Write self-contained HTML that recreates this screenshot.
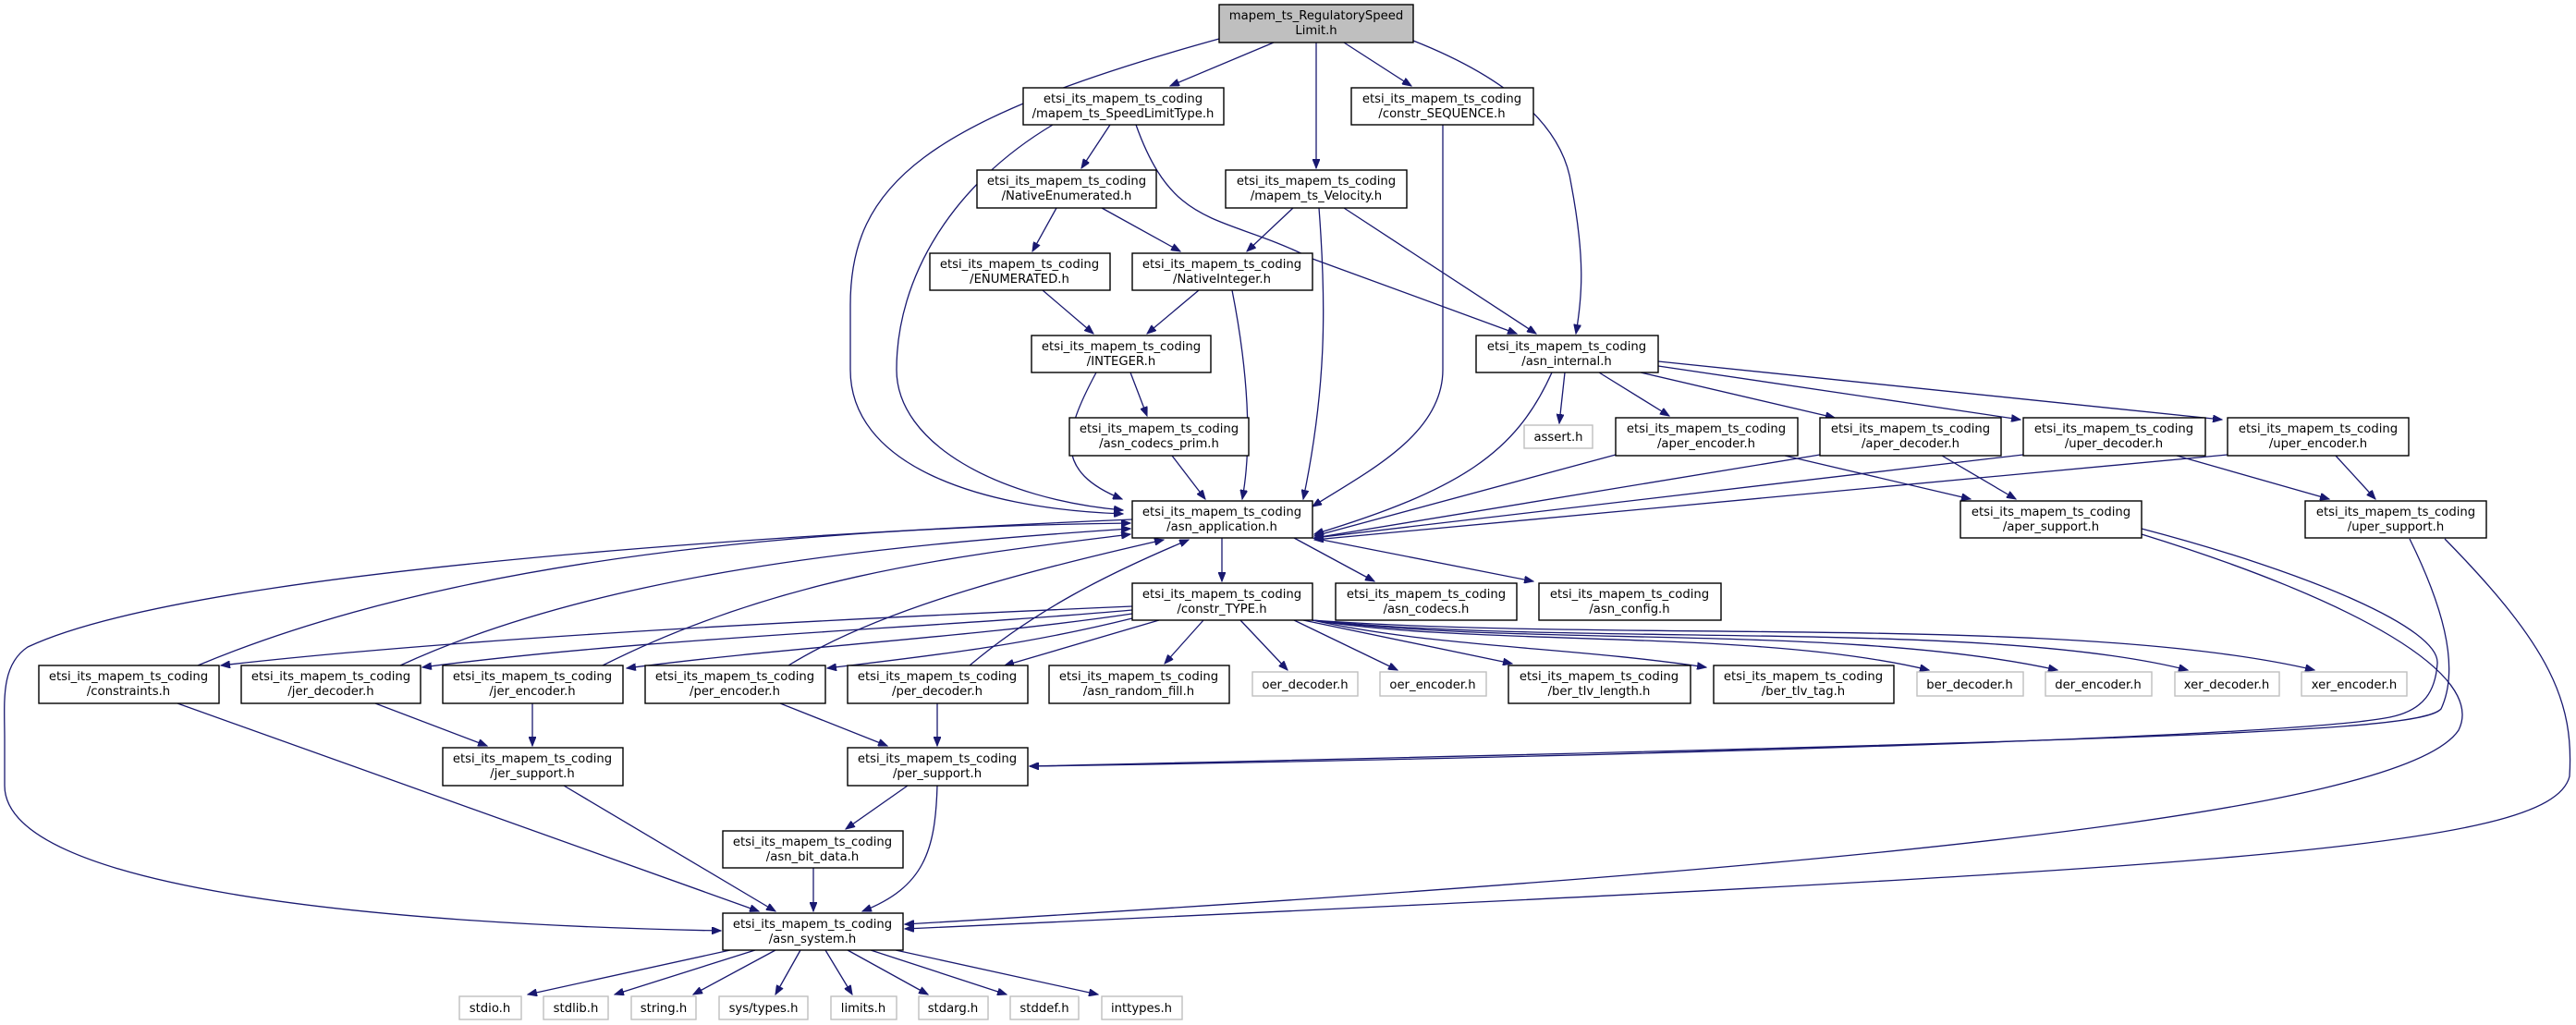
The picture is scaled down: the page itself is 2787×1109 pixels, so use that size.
<!DOCTYPE html>
<html><head><meta charset="utf-8"><style>
html,body{margin:0;padding:0;background:#fff;}
svg{display:block;}
text{font-family:"DejaVu Sans","Liberation Sans",sans-serif;font-size:13.2px;fill:#000;text-anchor:middle;}
.e{fill:none;stroke:#191970;stroke-width:1.3;marker-end:url(#a);}
.n{fill:#fff;stroke:#000;stroke-width:1.4;}
.g{fill:#fff;stroke:#bfbfbf;stroke-width:1.4;}
</style></head><body>
<svg width="2787" height="1109" viewBox="0 0 2787 1109" xmlns="http://www.w3.org/2000/svg">
<defs><marker id="a" markerUnits="userSpaceOnUse" markerWidth="11" markerHeight="8" refX="10" refY="4" orient="auto"><path d="M0,0 L10,4 L0,8 z" fill="#191970" stroke="#191970"/></marker></defs>
<g>
<path class="e" d="M1319,42 C1000,130 920,200 920,330 L920,400 C920,500 1050,550 1215,556"/>
<path class="e" d="M1378,46 L1266,93"/>
<path class="e" d="M1424,46 L1424,182"/>
<path class="e" d="M1454,46 L1527,93"/>
<path class="e" d="M1529,44 C1620,80 1690,130 1700,200 C1715,280 1712,320 1705,361"/>
<path class="e" d="M1201,135 L1170,182"/>
<path class="e" d="M1139,135 C1030,200 970,300 970,400 C970,480 1080,540 1215,552"/>
<path class="e" d="M1229,135 C1270,250 1320,230 1420,280 L1641,361"/>
<path class="e" d="M1561,135 L1561,400 C1561,470 1480,510 1420,548"/>
<path class="e" d="M1143,225 L1117,272"/>
<path class="e" d="M1192,225 L1277,272"/>
<path class="e" d="M1399,225 L1349,272"/>
<path class="e" d="M1454,225 L1662,361"/>
<path class="e" d="M1427,225 C1435,330 1435,420 1410,540"/>
<path class="e" d="M1128,314 L1183,361"/>
<path class="e" d="M1297,314 L1241,361"/>
<path class="e" d="M1333,314 C1350,400 1355,480 1344,540"/>
<path class="e" d="M1186,403 C1150,470 1140,510 1214,540"/>
<path class="e" d="M1223,403 L1241,450"/>
<path class="e" d="M1268,493 L1304,540"/>
<path class="e" d="M1693,403 L1687,458"/>
<path class="e" d="M1730,403 L1806,450"/>
<path class="e" d="M1775,403 L1985,452"/>
<path class="e" d="M1794,396 L2186,454"/>
<path class="e" d="M1794,391 L2404,454"/>
<path class="e" d="M1679,403 C1640,490 1580,530 1422,578"/>
<path class="e" d="M1748,492 L1422,580"/>
<path class="e" d="M1969,492 L1422,582"/>
<path class="e" d="M2189,492 L1422,582"/>
<path class="e" d="M2410,492 L1422,584"/>
<path class="e" d="M1931,493 L2132,540"/>
<path class="e" d="M2101,493 L2181,540"/>
<path class="e" d="M2355,493 L2520,540"/>
<path class="e" d="M2527,493 L2570,540"/>
<path class="e" d="M1322,582 L1322,629"/>
<path class="e" d="M1400,582 L1487,629"/>
<path class="e" d="M1420,582 L1659,629"/>
<path class="e" d="M1225,656 C900,670 500,690 239,720"/>
<path class="e" d="M1225,660 C1000,680 700,690 457,722"/>
<path class="e" d="M1225,664 C1050,690 850,700 678,723"/>
<path class="e" d="M1225,669 C1100,700 1000,710 895,723"/>
<path class="e" d="M1254,671 L1087,720"/>
<path class="e" d="M1302,671 L1260,718"/>
<path class="e" d="M1342,671 L1393,725"/>
<path class="e" d="M1400,671 L1512,725"/>
<path class="e" d="M1410,671 L1636,718"/>
<path class="e" d="M1420,671 C1550,700 1700,700 1846,722"/>
<path class="e" d="M1420,671 C1600,700 1900,680 2087,725"/>
<path class="e" d="M1420,671 C1650,700 2000,675 2226,725"/>
<path class="e" d="M1420,671 C1700,700 2150,670 2367,725"/>
<path class="e" d="M1420,671 C1750,695 2250,665 2504,725"/>
<path class="e" d="M214,720 C500,600 900,570 1223,566"/>
<path class="e" d="M433,720 C650,620 950,590 1223,572"/>
<path class="e" d="M652,720 C850,620 1050,600 1223,578"/>
<path class="e" d="M853,720 C950,660 1100,620 1259,584"/>
<path class="e" d="M1049,720 C1120,660 1200,620 1286,584"/>
<path class="e" d="M1225,562 C800,580 200,620 30,700 C0,720 5,760 5,800 L5,850 C5,960 400,1000 780,1007"/>
<path class="e" d="M192,761 L821,986"/>
<path class="e" d="M406,761 L527,807"/>
<path class="e" d="M576,761 L576,807"/>
<path class="e" d="M844,761 L960,807"/>
<path class="e" d="M1014,761 L1014,807"/>
<path class="e" d="M610,850 L839,986"/>
<path class="e" d="M982,850 L915,897"/>
<path class="e" d="M1014,850 C1012,920 1000,960 933,986"/>
<path class="e" d="M880,939 L880,986"/>
<path class="e" d="M2317,572 C2500,620 2640,680 2637,718 C2635,745 2625,770 2580,777 C2450,800 1600,822 1114,829"/>
<path class="e" d="M2607,583 C2640,650 2663,720 2641,767 C2620,790 2400,800 1114,829"/>
<path class="e" d="M2317,578 C2550,650 2690,730 2660,790 C2600,880 2000,940 979,1000"/>
<path class="e" d="M2645,583 C2760,700 2785,760 2780,840 C2760,920 2400,940 979,1005"/>
<path class="e" d="M790,1028 L571,1076"/>
<path class="e" d="M817,1028 L665,1076"/>
<path class="e" d="M839,1028 L750,1076"/>
<path class="e" d="M866,1028 L839,1076"/>
<path class="e" d="M893,1028 L922,1076"/>
<path class="e" d="M917,1028 L1004,1076"/>
<path class="e" d="M942,1028 L1089,1076"/>
<path class="e" d="M969,1028 L1188,1076"/>
</g>
<g>
<rect x="1319" y="5" width="210" height="41" fill="#bfbfbf" stroke="#000" stroke-width="1.4"/>
<text x="1424" y="21">mapem_ts_RegulatorySpeed</text><text x="1424" y="37">Limit.h</text>

<rect class="n" x="1107" y="95" width="217" height="40"/><text x="1215" y="111">etsi_its_mapem_ts_coding</text><text x="1215" y="127">/mapem_ts_SpeedLimitType.h</text>
<rect class="n" x="1462" y="95" width="197" height="40"/><text x="1560" y="111">etsi_its_mapem_ts_coding</text><text x="1560" y="127">/constr_SEQUENCE.h</text>
<rect class="n" x="1057" y="184" width="194" height="41"/><text x="1154" y="200">etsi_its_mapem_ts_coding</text><text x="1154" y="216">/NativeEnumerated.h</text>
<rect class="n" x="1326" y="184" width="196" height="41"/><text x="1424" y="200">etsi_its_mapem_ts_coding</text><text x="1424" y="216">/mapem_ts_Velocity.h</text>
<rect class="n" x="1006" y="274" width="195" height="40"/><text x="1103" y="290">etsi_its_mapem_ts_coding</text><text x="1103" y="306">/ENUMERATED.h</text>
<rect class="n" x="1225" y="274" width="195" height="40"/><text x="1322" y="290">etsi_its_mapem_ts_coding</text><text x="1322" y="306">/NativeInteger.h</text>
<rect class="n" x="1116" y="363" width="194" height="40"/><text x="1213" y="379">etsi_its_mapem_ts_coding</text><text x="1213" y="395">/INTEGER.h</text>
<rect class="n" x="1597" y="363" width="197" height="40"/><text x="1695" y="379">etsi_its_mapem_ts_coding</text><text x="1695" y="395">/asn_internal.h</text>
<rect class="n" x="1157" y="452" width="194" height="41"/><text x="1254" y="468">etsi_its_mapem_ts_coding</text><text x="1254" y="484">/asn_codecs_prim.h</text>
<rect class="g" x="1649" y="460" width="74" height="25"/><text x="1686" y="477">assert.h</text>
<rect class="n" x="1748" y="452" width="197" height="41"/><text x="1846" y="468">etsi_its_mapem_ts_coding</text><text x="1846" y="484">/aper_encoder.h</text>
<rect class="n" x="1969" y="452" width="196" height="41"/><text x="2067" y="468">etsi_its_mapem_ts_coding</text><text x="2067" y="484">/aper_decoder.h</text>
<rect class="n" x="2189" y="452" width="197" height="41"/><text x="2287" y="468">etsi_its_mapem_ts_coding</text><text x="2287" y="484">/uper_decoder.h</text>
<rect class="n" x="2410" y="452" width="196" height="41"/><text x="2508" y="468">etsi_its_mapem_ts_coding</text><text x="2508" y="484">/uper_encoder.h</text>
<rect class="n" x="1225" y="542" width="195" height="40"/><text x="1322" y="558">etsi_its_mapem_ts_coding</text><text x="1322" y="574">/asn_application.h</text>
<rect class="n" x="2121" y="542" width="196" height="40"/><text x="2219" y="558">etsi_its_mapem_ts_coding</text><text x="2219" y="574">/aper_support.h</text>
<rect class="n" x="2494" y="542" width="196" height="40"/><text x="2592" y="558">etsi_its_mapem_ts_coding</text><text x="2592" y="574">/uper_support.h</text>
<rect class="n" x="1225" y="631" width="195" height="40"/><text x="1322" y="647">etsi_its_mapem_ts_coding</text><text x="1322" y="663">/constr_TYPE.h</text>
<rect class="n" x="1445" y="631" width="196" height="40"/><text x="1543" y="647">etsi_its_mapem_ts_coding</text><text x="1543" y="663">/asn_codecs.h</text>
<rect class="n" x="1665" y="631" width="197" height="40"/><text x="1763" y="647">etsi_its_mapem_ts_coding</text><text x="1763" y="663">/asn_config.h</text>
<rect class="n" x="42" y="720" width="195" height="41"/><text x="139" y="736">etsi_its_mapem_ts_coding</text><text x="139" y="752">/constraints.h</text>
<rect class="n" x="261" y="720" width="194" height="41"/><text x="358" y="736">etsi_its_mapem_ts_coding</text><text x="358" y="752">/jer_decoder.h</text>
<rect class="n" x="479" y="720" width="195" height="41"/><text x="576" y="736">etsi_its_mapem_ts_coding</text><text x="576" y="752">/jer_encoder.h</text>
<rect class="n" x="698" y="720" width="195" height="41"/><text x="795" y="736">etsi_its_mapem_ts_coding</text><text x="795" y="752">/per_encoder.h</text>
<rect class="n" x="917" y="720" width="195" height="41"/><text x="1014" y="736">etsi_its_mapem_ts_coding</text><text x="1014" y="752">/per_decoder.h</text>
<rect class="n" x="1135" y="720" width="195" height="41"/><text x="1232" y="736">etsi_its_mapem_ts_coding</text><text x="1232" y="752">/asn_random_fill.h</text>
<rect class="g" x="1355" y="727" width="114" height="26"/><text x="1412" y="745">oer_decoder.h</text>
<rect class="g" x="1493" y="727" width="115" height="26"/><text x="1550" y="745">oer_encoder.h</text>
<rect class="n" x="1632" y="720" width="197" height="41"/><text x="1730" y="736">etsi_its_mapem_ts_coding</text><text x="1730" y="752">/ber_tlv_length.h</text>
<rect class="n" x="1854" y="720" width="195" height="41"/><text x="1951" y="736">etsi_its_mapem_ts_coding</text><text x="1951" y="752">/ber_tlv_tag.h</text>
<rect class="g" x="2074" y="727" width="115" height="26"/><text x="2131" y="745">ber_decoder.h</text>
<rect class="g" x="2213" y="727" width="115" height="26"/><text x="2270" y="745">der_encoder.h</text>
<rect class="g" x="2353" y="727" width="113" height="26"/><text x="2409" y="745">xer_decoder.h</text>
<rect class="g" x="2490" y="727" width="114" height="26"/><text x="2547" y="745">xer_encoder.h</text>
<rect class="n" x="479" y="809" width="195" height="41"/><text x="576" y="825">etsi_its_mapem_ts_coding</text><text x="576" y="841">/jer_support.h</text>
<rect class="n" x="917" y="809" width="195" height="41"/><text x="1014" y="825">etsi_its_mapem_ts_coding</text><text x="1014" y="841">/per_support.h</text>
<rect class="n" x="782" y="899" width="195" height="40"/><text x="879" y="915">etsi_its_mapem_ts_coding</text><text x="879" y="931">/asn_bit_data.h</text>
<rect class="n" x="782" y="988" width="195" height="40"/><text x="879" y="1004">etsi_its_mapem_ts_coding</text><text x="879" y="1020">/asn_system.h</text>
<rect class="g" x="497" y="1078" width="67" height="25"/><text x="530" y="1095">stdio.h</text>
<rect class="g" x="588" y="1078" width="70" height="25"/><text x="623" y="1095">stdlib.h</text>
<rect class="g" x="683" y="1078" width="70" height="25"/><text x="718" y="1095">string.h</text>
<rect class="g" x="778" y="1078" width="96" height="25"/><text x="826" y="1095">sys/types.h</text>
<rect class="g" x="899" y="1078" width="71" height="25"/><text x="934" y="1095">limits.h</text>
<rect class="g" x="994" y="1078" width="75" height="25"/><text x="1031" y="1095">stdarg.h</text>
<rect class="g" x="1093" y="1078" width="74" height="25"/><text x="1130" y="1095">stddef.h</text>
<rect class="g" x="1192" y="1078" width="87" height="25"/><text x="1235" y="1095">inttypes.h</text>
</g>
</svg>
</body></html>
